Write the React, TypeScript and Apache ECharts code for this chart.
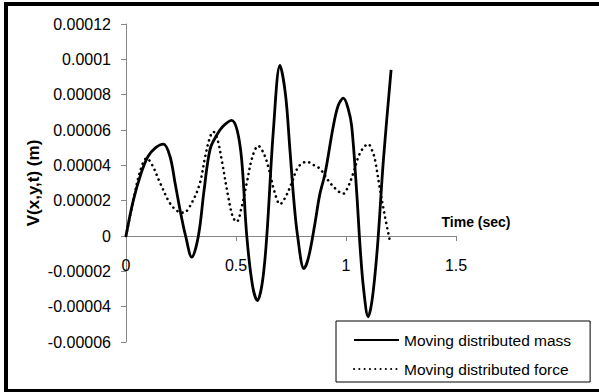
import React, { useEffect, useRef } from "react";
import * as echarts from "echarts";

// Time samples (sec) and displacement V(x,y,t) (m) for the two load models
const massTime = [
  0, 0.033, 0.07, 0.1, 0.135, 0.17, 0.2, 0.223, 0.25, 0.271, 0.299, 0.329, 0.355, 0.382, 0.412,
  0.44, 0.48, 0.505, 0.526, 0.549, 0.575, 0.597, 0.62, 0.64, 0.67, 0.7, 0.725, 0.745, 0.763,
  0.78, 0.809, 0.83, 0.859, 0.88, 0.905, 0.942, 0.965, 0.988, 1.01, 1.026, 1.049, 1.064, 1.08,
  1.101, 1.12, 1.143, 1.17, 1.205,
];
const massDisp = [
  0, 0.00002, 0.000036, 0.000045, 0.00005, 0.000052, 0.000045, 0.00003, 0.000012, 0, -0.000012,
  0, 0.000026, 0.000049, 0.000057, 0.000062, 0.0000655, 0.00006, 0.000043, 0, -0.000028,
  -0.0000365, -0.000026, 0, 0.00006, 0.0000965, 0.00008, 0.000049, 0.00002, 0, -0.0000185,
  -0.000012, 0.0000072, 0.000023, 0.0000355, 0.000062, 0.000074, 0.000078, 0.000072, 0.000062,
  0.000024, -0.000006, -0.00003, -0.0000457, -0.000035, -0.000006, 0.000043, 0.000094,
];

const forceTime = [
  0, 0.033, 0.065, 0.094, 0.12, 0.155, 0.2, 0.235, 0.262, 0.3, 0.336, 0.36, 0.382, 0.397, 0.415,
  0.435, 0.465, 0.485, 0.503, 0.525, 0.549, 0.575, 0.601, 0.625, 0.647, 0.675, 0.7, 0.725,
  0.753, 0.783, 0.821, 0.855, 0.882, 0.935, 0.988, 1.01, 1.033, 1.064, 1.101, 1.12, 1.132,
  1.155, 1.177, 1.2,
];
const forceDisp = [
  0, 0.00002, 0.000037, 0.000044, 0.00004, 0.00003, 0.0000185, 0.000014, 0.0000132, 0.000019,
  0.00003, 0.000045, 0.000056, 0.000059, 0.000055, 0.000043, 0.000022, 0.000011, 0.000008,
  0.000016, 0.00003, 0.000045, 0.000051, 0.000047, 0.000039, 0.000025, 0.000018, 0.000022,
  0.00003, 0.000039, 0.000042, 0.00004, 0.000038, 0.000029, 0.000024, 0.000028, 0.0000355,
  0.000047, 0.000052, 0.000048, 0.000043, 0.000026, 0.000011, -0.000003,
];

const seriesNames = ["Moving distributed mass", "Moving distributed force"];
const xTicks = [0, 0.5, 1, 1.5];
const yTicks = [-0.00006, -0.00004, -0.00002, 0, 0.00002, 0.00004, 0.00006, 0.00008, 0.0001, 0.00012];
const xTitle = "Time (sec)";
const yTitle = "V(x,y,t) (m)";

const FONT = "'Liberation Sans', Arial, sans-serif";
const AXIS_GRAY = "#868686";
const W = 599;
const H = 392;
const GRID = { left: 126, right: 143, top: 24, bottom: 50 };

const pairs = (xs: number[], ys: number[]) => xs.map((x, i) => [x, ys[i]]);
const fmt = (v: number) => (Math.abs(v) < 1e-12 ? "0" : String(Number(v.toPrecision(6))));

export default function App() {
  const ref = useRef<HTMLDivElement>(null);

  useEffect(() => {
    if (!ref.current) return;
    const chart = echarts.init(ref.current, null, { renderer: "svg" });
    const xStep = xTicks[1] - xTicks[0];
    const yStep = yTicks[1] - yTicks[0];
    const yMin = yTicks[0];
    const yMax = yTicks[yTicks.length - 1];
    // lift the time axis from the grid's bottom edge up to V = 0
    const plotHeight = H - GRID.top - GRID.bottom;
    const zeroLift = (plotHeight * (0 - yMin)) / (yMax - yMin);

    chart.setOption({
      animation: false,
      backgroundColor: "#fff",
      grid: { ...GRID, containLabel: false },
      xAxis: {
        type: "value",
        min: xTicks[0],
        max: xTicks[xTicks.length - 1],
        interval: xStep,
        offset: -zeroLift,
        axisLine: { show: true, onZero: false, lineStyle: { color: AXIS_GRAY, width: 1 } },
        axisTick: { show: true, length: 5, lineStyle: { color: AXIS_GRAY } },
        splitLine: { show: false },
        axisLabel: {
          color: "#000",
          fontSize: 16,
          fontFamily: FONT,
          margin: 21,
          formatter: (v: number) => fmt(v),
        },
      },
      yAxis: {
        type: "value",
        min: yMin,
        max: yMax,
        interval: yStep,
        axisLine: { show: true, onZero: false, lineStyle: { color: AXIS_GRAY, width: 1 } },
        axisTick: { show: true, length: 5, lineStyle: { color: AXIS_GRAY } },
        splitLine: { show: false },
        axisLabel: {
          color: "#000",
          fontSize: 16,
          fontFamily: FONT,
          margin: 15,
          formatter: (v: number) => fmt(v),
        },
      },
      legend: {
        data: seriesNames,
        orient: "vertical",
        left: 336,
        top: 321,
        padding: [11, 19, 5, 17],
        itemGap: 13,
        itemWidth: 45,
        itemHeight: 16,
        borderColor: "#000",
        borderWidth: 1,
        backgroundColor: "#fff",
        itemStyle: { opacity: 0 },
        textStyle: { color: "#000", fontSize: 15.5, fontFamily: FONT, lineHeight: 16 },
      },
      series: [
        {
          name: seriesNames[0],
          type: "line",
          data: pairs(massTime, massDisp),
          smooth: 0.35,
          symbol: "none",
          showSymbol: false,
          lineStyle: { color: "#000", width: 2.8 },
          itemStyle: { color: "#000" },
        },
        {
          name: seriesNames[1],
          type: "line",
          data: pairs(forceTime, forceDisp),
          smooth: 0.35,
          symbol: "none",
          showSymbol: false,
          lineStyle: { color: "#000", width: 2.6, type: [0.1, 5.2], cap: "round" },
          itemStyle: { color: "#000" },
        },
      ],
      graphic: [
        {
          type: "text",
          x: 33,
          y: 183,
          rotation: Math.PI / 2,
          style: {
            text: yTitle,
            fill: "#000",
            font: `bold 17px ${FONT}`,
            textAlign: "center",
            textVerticalAlign: "middle",
          },
        },
        {
          type: "text",
          x: 476,
          y: 222,
          style: {
            text: xTitle,
            fill: "#000",
            font: `bold 14px ${FONT}`,
            textAlign: "center",
            textVerticalAlign: "middle",
          },
        },
        // heavy frame on the left, top and bottom edges
        { type: "rect", shape: { x: 4, y: 2, width: 4, height: 390 }, style: { fill: "#000" } },
        { type: "rect", shape: { x: 4, y: 2, width: W - 4, height: 4 }, style: { fill: "#000" } },
        { type: "rect", shape: { x: 4, y: 389, width: W - 4, height: 3 }, style: { fill: "#000" } },
      ],
    });

    return () => chart.dispose();
  }, []);

  return (
    <div
      ref={ref}
      style={{ position: "fixed", left: 0, top: 0, width: W, height: H, background: "#fff" }}
    />
  );
}
